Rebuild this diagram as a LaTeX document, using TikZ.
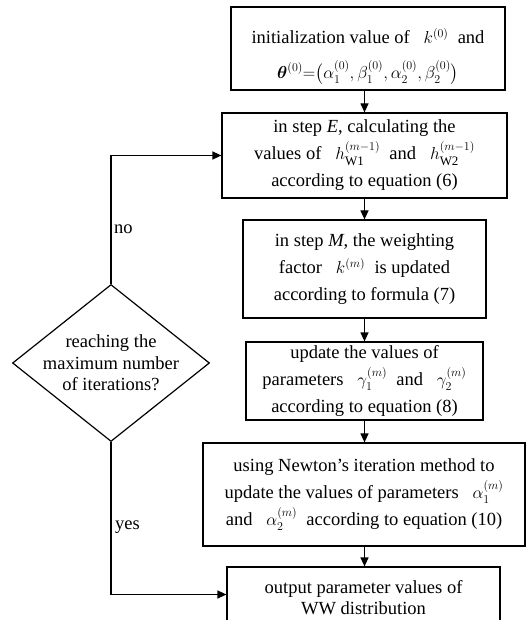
\documentclass[tikz,border=0pt]{standalone}
\usepackage{amsmath}
\usepackage{fontspec}
\setmainfont{Liberation Serif}
\usetikzlibrary{shapes.geometric,arrows.meta}
\tikzset{
  box/.style={draw, line width=1.2pt, align=center, inner sep=0pt},
  arr/.style={line width=1.2pt, -{Triangle[length=9pt,width=8pt]}},
  lbl/.style={anchor=west, inner sep=0pt}
}
\begin{document}
\begin{tikzpicture}[x=1pt,y=-1pt,font=\fontsize{18.5}{27}\selectfont]
\useasboundingbox (0,0) rectangle (529,620);
\clip (0,0) rectangle (529,620);
\node[box, minimum width=274, minimum height=83,
  label={[align=center, yshift=-8pt]center:initialization value of \ \ $k^{(0)}$\ \ and\\[8pt]
   $\boldsymbol{\theta}^{(0)}{=}\bigl(\alpha_1^{(0)},\beta_1^{(0)},\alpha_2^{(0)},\beta_2^{(0)}\bigr)$}] (b1) at (368,48.5) {};
\node[box, minimum width=285, minimum height=85] (b2) at (364.5,155.5)
  {in step \textit{E}, calculating the\\
   values of \ \ $h_{\mathrm{W1}}^{(m-1)}$\ \ and \ \ $h_{\mathrm{W2}}^{(m-1)}$\\
   according to equation (6)};
\node[box, minimum width=243, minimum height=98] (b3) at (364.5,269)
  {in step \textit{M}, the weighting\\
   factor \ \ $k^{(m)}$\ \ is updated\\
   according to formula (7)};
\node[box, minimum width=237, minimum height=78] (b4) at (364.5,381)
  {update the values of\\
   parameters \ \ $\gamma_1^{(m)}$\ \ and \ \ $\gamma_2^{(m)}$\\
   according to equation (8)};
\node[box, minimum width=322, minimum height=103] (b5) at (364,494.5)
  {using Newton's iteration method to\\
   update the values of parameters \ \ $\alpha_1^{(m)}$\\
   and \ \ $\alpha_2^{(m)}$\ \ according to equation (10)};
\node[box, minimum width=273, minimum height=55,
  label={[align=center, yshift=-3pt, font=\fontsize{18.5}{21}\selectfont]center:output parameter values of\\ WW distribution}] (b6) at (363.5,594.5) {};
\node[draw, diamond, line width=1.2pt, minimum width=197, minimum height=157, inner sep=0pt,
  label={[align=center, font=\fontsize{18.5}{21.5}\selectfont]center:reaching the\\ maximum number\\ of iterations?}] (dec) at (111,363) {};
\node[lbl] (no) at (114,229) {no};
\node[lbl] (yes) at (115,527) {yes};
\draw[arr] (b2.north |- b1.south) -- (b2.north);
\draw[arr] (b2.south) -- (b3.north);
\draw[arr] (b3.south) -- (b4.north);
\draw[arr] (b4.south) -- (b5.north -| b4.south);
\draw[arr] (b5.south -| b4.south) -- (b6.north -| b4.south);
\draw[arr] (dec.north) |- (b2.west);
\draw[arr] (dec.south) |- (b6.west);
\end{tikzpicture}
\end{document}
